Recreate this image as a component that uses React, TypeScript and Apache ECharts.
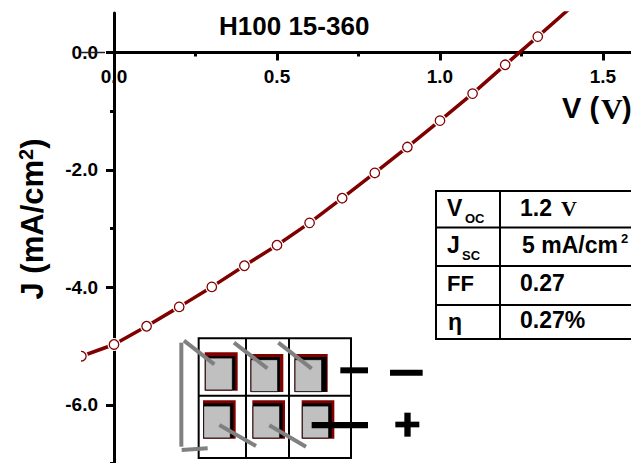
import React, { useEffect, useRef } from "react";
import * as echarts from "echarts";

const voltages = [-0.1, 0, 0.1, 0.2, 0.3, 0.4, 0.5, 0.6, 0.7, 0.8, 0.9, 1.0, 1.1, 1.2, 1.3, 1.4];
const currents = [-5.17, -4.97, -4.66, -4.33, -3.99, -3.63, -3.28, -2.9, -2.48, -2.05, -1.61, -1.16, -0.7, -0.21, 0.27, 0.76];
const xMajorTicks = [0, 0.5, 1.0, 1.5];
const xMinorTicks = [0.25, 0.75, 1.25];
const yMajorTicks = [-6, -4, -2, 0];
const yMinorTicks = [-7, -5, -3, -1];
const tableRows = [
  ["V", "OC", "1.2 "],
  ["J", "SC", "5 mA/cm"],
  ["FF", "", "0.27"],
  ["η", "", "0.27%"],
];

const FONT = "'Liberation Sans', Arial, sans-serif";
const SERIF = "'Liberation Serif', 'Times New Roman', serif";
const RED = "#800000";

const txt = (x: number, y: number, text: string, size: number, family = FONT, extra: any = {}) => ({
  type: "text", x, y, z: 50,
  style: { text, fontFamily: family, fontWeight: "bold", fontSize: size, fill: "#000", verticalAlign: "middle", ...extra },
});
const line = (x1: number, y1: number, x2: number, y2: number, stroke: string, lineWidth: number) => ({
  type: "line", z: 40, shape: { x1, y1, x2, y2 }, style: { stroke, lineWidth },
});
const box = (x: number, y: number, width: number, height: number, fill: string, stroke?: string, lineWidth = 1) => ({
  type: "rect", z: 30, shape: { x, y, width, height }, style: { fill, stroke: stroke || "none", lineWidth },
});

// zoom-space helpers for the device sketch
const sx = (v: number) => 60 + v / 3;
const sy = (v: number) => 320 + v / 3;
const cell = (rx0: number, rx1: number, ry0: number, ry1: number, bx1: number, by0: number, gx1: number, gy0: number, gx0: number, gy1: number) => [
  box(sx(rx0), sy(ry0), (rx1 - rx0) / 3, (ry1 - ry0) / 3, RED),
  box(sx(gx0), sy(by0), (bx1 - gx0) / 3, (gy1 - by0) / 3, "#000"),
  box(sx(gx0), sy(gy0), (gx1 - gx0) / 3, (gy1 - gy0) / 3, "#c0c0c0", "#000", 0.8),
];
const sl = (a: number, b: number, c: number, d: number, stroke: string, w: number) => line(sx(a), sy(b), sx(c), sy(d), stroke, w);
const sr = (a: number, b: number, c: number, d: number) => box(sx(a), sy(b), (c - a) / 3, (d - b) / 3, "#000");

const axisFont = { fontFamily: FONT, fontWeight: "bold" as const, fontSize: 19, color: "#000" };

export default function App() {
  const ref = useRef<HTMLDivElement>(null);
  useEffect(() => {
    document.body.style.margin = "0";
    const chart = echarts.init(ref.current!, null, { renderer: "svg" });
    const points = voltages.map((v, i) => [v, currents[i]]);
    const top = 13;
    const height = 509.5;
    const black = { color: "#000", width: 3 };
    const zeroOffset = -39.5; // the horizontal axis sits at J = 0, below the plot's top edge
    chart.setOption({
      animation: false,
      backgroundColor: "#fff",
      title: {
        text: "H100 15-360", left: 214, top: 8,
        textStyle: { fontFamily: FONT, fontWeight: "bold", fontSize: 26, color: "#000" },
      },
      grid: [
        { left: 114, top, width: 517, height, outerBoundsMode: "none" },
        { left: 81.4, top, width: 549.6, height, outerBoundsMode: "none" },
      ],
      xAxis: [
        {
          gridIndex: 0, type: "value", min: 0, max: 1.586, position: "top", offset: zeroOffset,
          splitLine: { show: false },
          axisLine: { show: true, onZero: false, lineStyle: black },
          axisTick: { show: true, customValues: xMajorTicks, length: 8, inside: true, lineStyle: { color: "#000", width: 3 } },
          axisLabel: { show: true, customValues: xMajorTicks, inside: true, margin: 14, formatter: (v: number) => v.toFixed(1), ...axisFont },
        },
        {
          gridIndex: 0, type: "value", min: 0, max: 1.586, position: "top", offset: zeroOffset,
          splitLine: { show: false },
          axisLine: { show: false, onZero: false },
          axisTick: { show: true, customValues: xMinorTicks, length: 4, inside: true, lineStyle: { color: "#000", width: 3 } },
          axisLabel: { show: false },
        },
        { gridIndex: 1, type: "value", min: -0.1, max: 1.586, show: false, axisLabel: { show: false }, axisTick: { show: false }, axisLine: { show: false } },
      ],
      yAxis: [
        {
          gridIndex: 0, type: "value", min: -8, max: 0.672, position: "left",
          splitLine: { show: false },
          axisLine: { show: true, onZero: false, lineStyle: black },
          axisTick: { show: true, customValues: yMajorTicks, length: 8, lineStyle: { color: "#000", width: 3 } },
          axisLabel: { show: true, customValues: yMajorTicks, margin: 16, formatter: (v: number) => v.toFixed(1), ...axisFont },
        },
        {
          gridIndex: 0, type: "value", min: -8, max: 0.672, position: "left",
          splitLine: { show: false },
          axisLine: { show: false, onZero: false },
          axisTick: { show: true, customValues: yMinorTicks, length: 4, lineStyle: { color: "#000", width: 3 } },
          axisLabel: { show: false },
        },
        { gridIndex: 1, type: "value", min: -8, max: 0.672, show: false, axisLabel: { show: false }, axisTick: { show: false }, axisLine: { show: false } },
      ],
      series: [
        {
          type: "line", xAxisIndex: 2, yAxisIndex: 2, data: points, symbol: "none", z: 3,
          lineStyle: { color: RED, width: 3.5 }, clip: true,
        },
        {
          type: "scatter", xAxisIndex: 2, yAxisIndex: 2, data: points, symbol: "circle", symbolSize: 13, z: 4,
          itemStyle: { color: "#fff", opacity: 1 }, silent: true,
        },
        {
          type: "scatter", xAxisIndex: 2, yAxisIndex: 2, data: points, symbol: "circle", symbolSize: 9.5, z: 5,
          itemStyle: { color: "#fff", borderColor: RED, borderWidth: 1.3, opacity: 1 }, silent: true,
        },
      ],
      graphic: [
        // half-clipped first marker
        box(68, 345, 13, 24, "#fff"),
        // thin stroke running through the 0.0 label
        line(80, 52.5, 105, 52.5, "#222", 1.5),
        // axis titles
        {
          type: "text", x: 32, y: 219, z: 50, rotation: Math.PI / 2,
          style: {
            text: "{a|J (mA/cm}{b|2}{a|)}", align: "center", verticalAlign: "middle",
            rich: {
              a: { fontFamily: FONT, fontWeight: "bold", fontSize: 31, fill: "#000" },
              b: { fontFamily: FONT, fontWeight: "bold", fontSize: 20, fill: "#000", verticalAlign: "top", padding: [0, 0, 12, 0] },
            },
          },
        },
        txt(562, 108, "V (", 29),
        txt(601, 108, "V", 30, SERIF),
        txt(622, 108, ")", 29),
        // table
        box(436, 191, 200, 148, "#fff", "#000", 2),
        line(500, 191, 500, 339, "#000", 2),
        line(436, 227.5, 631, 227.5, "#000", 2),
        line(436, 266, 631, 266, "#000", 2),
        line(436, 305, 631, 305, "#000", 2),
        txt(447, 208, tableRows[0][0], 23),
        txt(465, 218, tableRows[0][1], 13),
        txt(447, 245, tableRows[1][0], 23),
        txt(462, 255, tableRows[1][1], 13),
        txt(447, 283, tableRows[2][0], 22),
        txt(448, 322, tableRows[3][0], 23),
        txt(520, 208, tableRows[0][2], 23),
        txt(561, 208, "V", 22, SERIF),
        txt(522, 245, tableRows[1][2], 23),
        txt(621, 238, "2", 13),
        txt(520, 283, tableRows[2][2], 23),
        txt(520, 320, tableRows[3][2], 23),
        // device sketch
        box(sx(416), sy(55), 457 / 3, 359 / 3, "#fff", "#000", 2),
        sl(416, 227, 873, 227, "#000", 2),
        sl(558, 55, 558, 414, "#000", 2),
        sl(687, 55, 687, 414, "#000", 2),
        ...cell(434, 533, 97, 212, 526, 109, 517, 114, 436, 210),
        ...cell(571, 670, 102, 216, 660, 111, 653, 119, 573, 215),
        ...cell(703, 803, 102, 216, 800, 111, 785, 119, 705, 215),
        ...cell(429, 527, 241, 356, 520, 250, 511, 258, 431, 354),
        ...cell(577, 675, 241, 356, 668, 250, 659, 258, 579, 354),
        ...cell(725, 823, 241, 356, 815, 250, 806, 258, 727, 354),
        sl(364, 68, 364, 380, "#808080", 4),
        sl(372, 62, 463, 133, "#808080", 4),
        sl(365, 390, 443, 385, "#808080", 4),
        sl(522, 68, 622, 145, "#808080", 4),
        sl(655, 68, 755, 146, "#808080", 4),
        sl(478, 315, 588, 378, "#808080", 4),
        sl(628, 316, 738, 380, "#808080", 4),
        { ...sr(841, 142, 924, 160), z: 45 },
        { ...sr(990, 149, 1088, 167), z: 45 },
        { ...sr(755, 306, 924, 325), z: 45 },
        { ...sr(1006, 305, 1078, 322), z: 45 },
        { ...sr(1033, 278, 1052, 350), z: 45 },
      ],
    });
    return () => chart.dispose();
  }, []);
  return <div ref={ref} style={{ position: "absolute", left: 0, top: 0, width: 631, height: 463, overflow: "hidden" }} />;
}
